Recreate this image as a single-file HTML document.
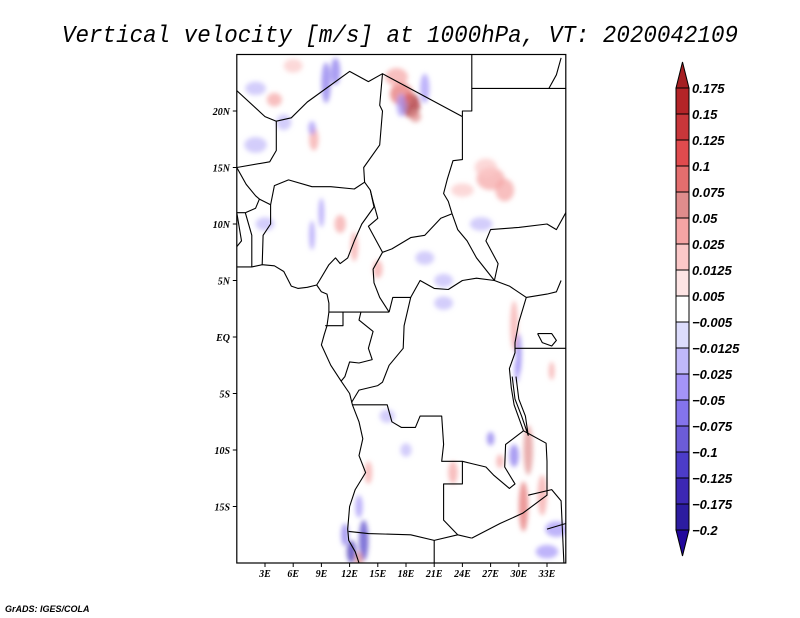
<!DOCTYPE html>
<html><head><meta charset="utf-8"><style>
html,body{margin:0;padding:0;background:#fff;width:800px;height:618px;overflow:hidden}
</style></head><body>
<svg id="chart" width="800" height="618" viewBox="0 0 800 618" style="font-family:'Liberation Serif',serif">
<text x="400" y="42" text-anchor="middle" style="font-family:'Liberation Mono',monospace;font-style:italic;font-size:24px" textLength="676" lengthAdjust="spacingAndGlyphs">Vertical velocity [m/s] at 1000hPa, VT: 2020042109</text>
<defs><clipPath id="mapclip"><rect x="236.8" y="54.5" width="329" height="508.5"/></clipPath>
<filter id="blur"><feGaussianBlur stdDeviation="2.5"/></filter></defs>
<g id="field" clip-path="url(#mapclip)"></g>
<g id="borders" clip-path="url(#mapclip)"></g>
<rect x="236.8" y="54.5" width="329" height="508.5" fill="none" stroke="#000" stroke-width="1.2"/>
<g id="axes"></g>
<g id="cbar"></g>
<text x="5" y="612" style="font-family:'Liberation Sans',sans-serif;font-size:9px;font-weight:bold;font-style:italic">GrADS: IGES/COLA</text>
</svg>
<script>
const lonTicks=[3,6,9,12,15,18,21,24,27,30,33];
const latTicks=[20,15,10,5,0,-5,-10,-15];
const latLabels=["20N","15N","10N","5N","EQ","5S","10S","15S"];
const levelLabels=["0.175","0.15","0.125","0.1","0.075","0.05","0.025","0.0125","0.005","-0.005","-0.0125","-0.025","-0.05","-0.075","-0.1","-0.125","-0.175","-0.2"];
const levelValues=[0.175,0.15,0.125,0.1,0.075,0.05,0.025,0.0125,0.005,-0.005,-0.0125,-0.025,-0.05,-0.075,-0.1,-0.125,-0.175,-0.2];
const levelColors=["#a51f22","#b42428","#c8363a","#e04b4e","#e46e6e","#e08c8c","#f5a4a4","#fbc8c8","#fde4e4","#ffffff","#dcdcfc","#c0b8fa","#a494f8","#8474ec","#6c5cd8","#4c3cc8","#3c28b4","#2c1ca0","#22089c"];
const blobLon=[18.5,17.5,19,9.5,10.5,8.2,8,13.5,11.5,12.2,13,5,4,2,27,28.5,26.5,29.5,30,31,32.5,30.5,14,13,12.5,15,17,8,9,11,20,22,26,23,18,34,33,2,6,3,20,24,17.5,29.8,29.5,27,28,33.5,22,16];
const blobLat=[20.5,21.5,19.5,22.5,23.5,17.5,18.5,-18,-17.5,-19,-19.8,19,21,17,14,13,15,1,-1.5,-10,-14,-15,-12,-15,8,6,23,9,11,10,7,5,10,-12,-10,-17,-19,22,24,10,22,13,20.5,-3,-10.5,-9,-11,-3,3,-7];
const blobVal=[0.2,0.09,0.06,-0.06,-0.05,0.03,-0.03,-0.1,-0.06,-0.14,0.07,-0.02,0.03,-0.02,0.03,0.05,0.02,0.05,-0.05,0.06,0.05,0.08,0.03,-0.03,0.04,0.03,0.03,-0.03,-0.03,0.03,-0.02,-0.02,-0.02,0.03,-0.02,-0.03,-0.03,-0.02,0.02,-0.02,-0.03,0.02,-0.04,-0.04,-0.06,-0.05,0.05,0.04,-0.02,-0.02];
const blobRx=[1.0,1.2,0.6,0.5,0.5,0.5,0.4,0.5,0.4,0.5,0.4,0.8,0.8,1.2,1.5,1.0,1.2,0.4,0.3,0.5,0.5,0.5,0.4,0.4,0.4,0.5,1.2,0.3,0.3,0.6,1.0,1.0,1.2,0.5,0.6,1.2,1.2,1.1,1.0,1.0,0.5,1.2,0.5,0.3,0.5,0.4,0.4,0.3,1.0,0.8];
const blobRy=[1.1,1.0,0.5,1.8,1.2,1.0,0.6,1.8,1.0,1.0,0.8,0.7,0.6,0.7,1.0,1.0,0.8,2.2,1.8,2.2,1.8,2.2,1.0,1.0,1.3,0.8,0.8,1.3,1.3,0.8,0.6,0.6,0.6,1.0,0.6,0.7,0.6,0.6,0.6,0.6,1.3,0.6,1.0,1.0,1.0,0.6,0.6,0.8,0.6,0.6];
const X=lon=>236.8+lon*9.4, Y=lat=>337-lat*11.3;
const NS="http://www.w3.org/2000/svg";
function mk(t,a,p){const e=document.createElementNS(NS,t);for(const k in a)e.setAttribute(k,a[k]);p.appendChild(e);return e;}
function colorFor(v){for(let i=0;i<levelValues.length;i++){if(v>levelValues[i])return levelColors[i];}return levelColors[levelColors.length-1];}
const field=document.getElementById('field');
const bg=mk('g',{filter:'url(#blur)'},field);
blobLon.forEach((lo,i)=>{
  const e=mk('ellipse',{cx:X(lo),cy:Y(blobLat[i]),rx:blobRx[i]*9.4,ry:blobRy[i]*11.3,fill:colorFor(blobVal[i]),opacity:0.7},bg);
  
  
});
const lines=[
[[0,6.2],[1.6,6.2],[2.7,6.4],[4,6.3],[5,5.8],[5.8,4.5],[6.5,4.3],[7.5,4.4],[8.5,4.6],[9,4],[9.6,3.8],[9.8,3],[9.8,2.2],[9.6,1],[9.3,0.2],[9,-0.7],[10,-2.5],[11.1,-3.9],[12,-5],[12.3,-6],[13,-7.5],[13.4,-9],[13,-10.5],[13.7,-12],[12.6,-13.5],[12,-15],[11.8,-17],[11.9,-18],[12.6,-19],[13.2,-20.5]],
[[0,21.8],[3,19.5],[4.2,19.1],[5.8,19.4],[7.5,20.8],[12,23.5],[14,22.6],[15.5,23.3],[24,19.5]],
[[24,19.5],[24,20],[25,20],[25,22],[35,22]],[[25,22],[25,26]],
[[33.2,22],[34,23.2],[34.5,24.7]],
[[0,15],[3.5,15.5],[4.2,16.5],[4.2,19.1]],
[[0,15],[1,13.5],[2,12.5],[2.4,12.2],[3.6,11.7]],
[[15.5,23.3],[15.2,20.5],[15.5,20],[15.2,17],[13.5,15],[13.6,13.7]],
[[24,19.5],[24,15.7],[23,15.6],[22.4,14],[22,12.7],[22.5,12],[22.9,10.9]],
[[15.5,7.5],[16.5,7.8],[18.5,8.8],[20,9],[21.7,10.5],[22.9,10.9]],
[[3.6,11.7],[4,13.4],[5.5,13.9],[8,13.3],[10,13.3],[12.5,13.1],[13.6,13.7]],
[[3.6,11.7],[3.6,10],[2.8,9],[2.7,6.4]],
[[0.9,11],[1.6,9],[1.6,6.2]],[[0.9,11],[2,11.4],[2.4,12.2]],[[0,11],[0.9,11]],[[0,8],[0.5,8.5],[0,11]],
[[13.6,13.7],[14.2,13],[14.6,11.5],[13.3,10],[12.5,8.5],[11.8,7],[11,6.5],[10.5,7],[9.8,6.4],[8.8,5],[8.5,4.6]],
[[14.2,13],[14.5,12],[15,10.5],[14,9.8],[15.5,7.5]],
[[15.5,7.5],[14.5,6],[14.6,4.8],[15.2,3.5],[16.2,2.2]],
[[9.8,2.2],[11.3,2.2],[13.2,2.2],[14.5,2.2],[16.2,2.2]],[[11.3,2.2],[11.3,1],[9.4,1]],
[[13.2,2.2],[13,1.5],[14.5,0.5],[14,-1],[14.4,-2],[13,-2.3],[12,-2.2],[11.5,-3.5],[11.1,-3.9]],
[[16.2,2.2],[16.6,3.5],[18.5,3.5],[19.5,5],[21,4.3],[22.5,4.2],[24,5],[25.5,5.2],[27.4,5],[29,4.5],[30.8,3.5]],
[[22.9,10.9],[23.5,9.5],[24.5,8.5],[25.5,7],[27.4,5]],
[[18.5,3.5],[17.8,1],[17.7,-1],[16.2,-2.5],[15.5,-4],[15,-4.3],[13,-4.7],[12.2,-5.8]],
[[12.3,-6],[16,-6],[16.5,-7.5],[17.5,-8],[19,-8],[19.5,-7],[21.8,-7],[22,-9.5],[21.8,-11],[22.5,-11],[24,-11],[25,-11.2],[26.5,-11.5],[27.3,-12.2],[29,-13.4],[29.6,-13],[28.5,-11.5],[28.6,-9.5],[30.5,-8.3]],
[[24,-11],[24,-13],[22,-13],[22,-16.2],[23.5,-17.5],[25,-17.8]],
[[11.9,-17.2],[14,-17.4],[18.5,-17.5],[21,-18],[23.5,-17.5]],[[21,-18],[21,-21]],
[[25,-17.8],[28,-16.5],[30.4,-15.6],[33,-14],[33,-11],[32.9,-9.4],[30.5,-8.3]],
[[30.8,3.5],[30,1.3],[29.6,-0.5],[29.6,-1.4],[29,-2.8],[29.2,-4.5],[29.5,-6],[30.5,-8.3]],
[[29.3,-3.5],[29.6,-5.5],[30.3,-7],[31,-8.7],[30.7,-7],[30,-5.5],[29.7,-3.5]],
[[30.8,3.5],[33,3.8],[34,4],[34.5,5]],[[29.6,-1],[35,-1]],
[[27.4,5],[27.8,6.5],[26.5,8.5],[27,9.5],[30,9.7],[33,10],[34,9.5],[35,11]],
[[33,-17],[35,-16.5]],[[31,-14],[33.5,-13.5],[34.5,-14.5],[34.8,-20]],
[[32,0.3],[32.5,-0.5],[33.5,-0.8],[34,-0.3],[33.5,0.3],[32,0.3]]
];
const bd=document.getElementById('borders');
lines.forEach(l=>{
  const p=mk('polyline',{points:l.map(q=>X(q[0]).toFixed(1)+','+Y(q[1]).toFixed(1)).join(' '),fill:'none',stroke:'#000','stroke-width':1.1,'stroke-linejoin':'round'},bd);
  
  
});
const ax=document.getElementById('axes');
lonTicks.forEach(l=>{
  const t=mk('text',{x:X(l),y:577,'text-anchor':'middle',style:'font-size:10px;font-weight:bold;font-style:italic'},ax);t.textContent=l+'E';
  
  
  mk('line',{x1:X(l),x2:X(l),y1:563,y2:567,stroke:'#000'},ax);
});
latTicks.forEach((l,i)=>{
  const t=mk('text',{x:230,y:Y(l)+4,'text-anchor':'end',style:'font-size:10px;font-weight:bold;font-style:italic'},ax);t.textContent=latLabels[i];
  
  
  mk('line',{x1:232.8,x2:236.8,y1:Y(l),y2:Y(l),stroke:'#000'},ax);
});
const cb=document.getElementById('cbar');
const cx0=676,cw=13,cbTop=88,step=26,nLev=levelValues.length;
let arr=mk('polygon',{points:`${cx0},${cbTop} ${cx0+cw},${cbTop} ${cx0+cw/2},${cbTop-26}`,fill:levelColors[0],stroke:'#000','stroke-width':1},cb);


for(let i=0;i<nLev-1;i++){
  const r=mk('rect',{x:cx0,y:cbTop+i*step,width:cw,height:step,fill:levelColors[i+1],stroke:'#000','stroke-width':1},cb);
  
  
}
const cbBot=cbTop+(nLev-1)*step;
arr=mk('polygon',{points:`${cx0},${cbBot} ${cx0+cw},${cbBot} ${cx0+cw/2},${cbBot+26}`,fill:levelColors[nLev],stroke:'#000','stroke-width':1},cb);


levelLabels.forEach((s,i)=>{
  const t=mk('text',{x:692,y:cbTop+i*step+5,style:"font-size:13px;font-weight:bold;font-style:italic;font-family:'Liberation Sans',sans-serif"},cb);
  t.textContent=s.replace('-','\u2212');
  
  
});
</script>
</body></html>
